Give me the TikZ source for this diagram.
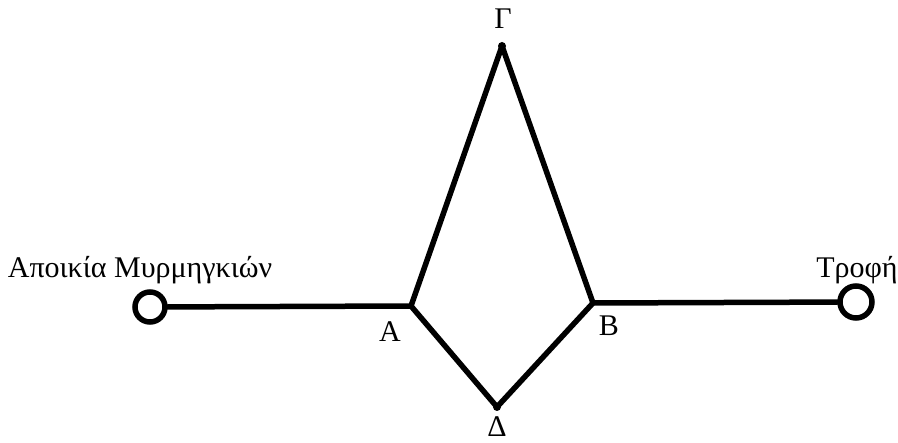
\documentclass[tikz,border=0pt]{standalone}
\usepackage{fontspec}
\setmainfont{Liberation Serif}
\begin{document}
\begin{tikzpicture}[x=1pt,y=-1pt,
  edge/.style={line width=5.5pt,line join=round,line cap=round},
  ring/.style={circle,draw,line width=5.5pt,minimum size=30pt,inner sep=0pt},
  lbl/.style={font=\fontsize{30}{34}\selectfont,inner sep=0pt},
  vtx/.style={circle,fill,inner sep=0pt,minimum size=8pt}]
\useasboundingbox (0,0) rectangle (898,443);
\node[ring] (nest) at (150,307) {};
\node[ring,minimum size=32pt] (food) at (856,302) {};
\coordinate (A) at (411,306);
\coordinate (B) at (593,303);
\node[vtx] (G) at (502,46) {};
\node[vtx] (D) at (497,407) {};
\draw[edge] (nest) -- (A) -- (G.center) -- (B) -- (food);
\draw[edge] (A) -- (D.center) -- (B);
\node[lbl,anchor=base] (tn) at (140,278) {Αποικία Μυρμηγκιών};
\node[lbl,anchor=base] (tf) at (857,278) {Τροφή};
\node[lbl,anchor=base] (tG) at (503,29) {Γ};
\node[lbl,anchor=base] (tD) at (497,437) {Δ};
\node[lbl,anchor=base] (tA) at (390,342) {Α};
\node[lbl,anchor=base] (tB) at (609,336) {Β};
\end{tikzpicture}
\end{document}
